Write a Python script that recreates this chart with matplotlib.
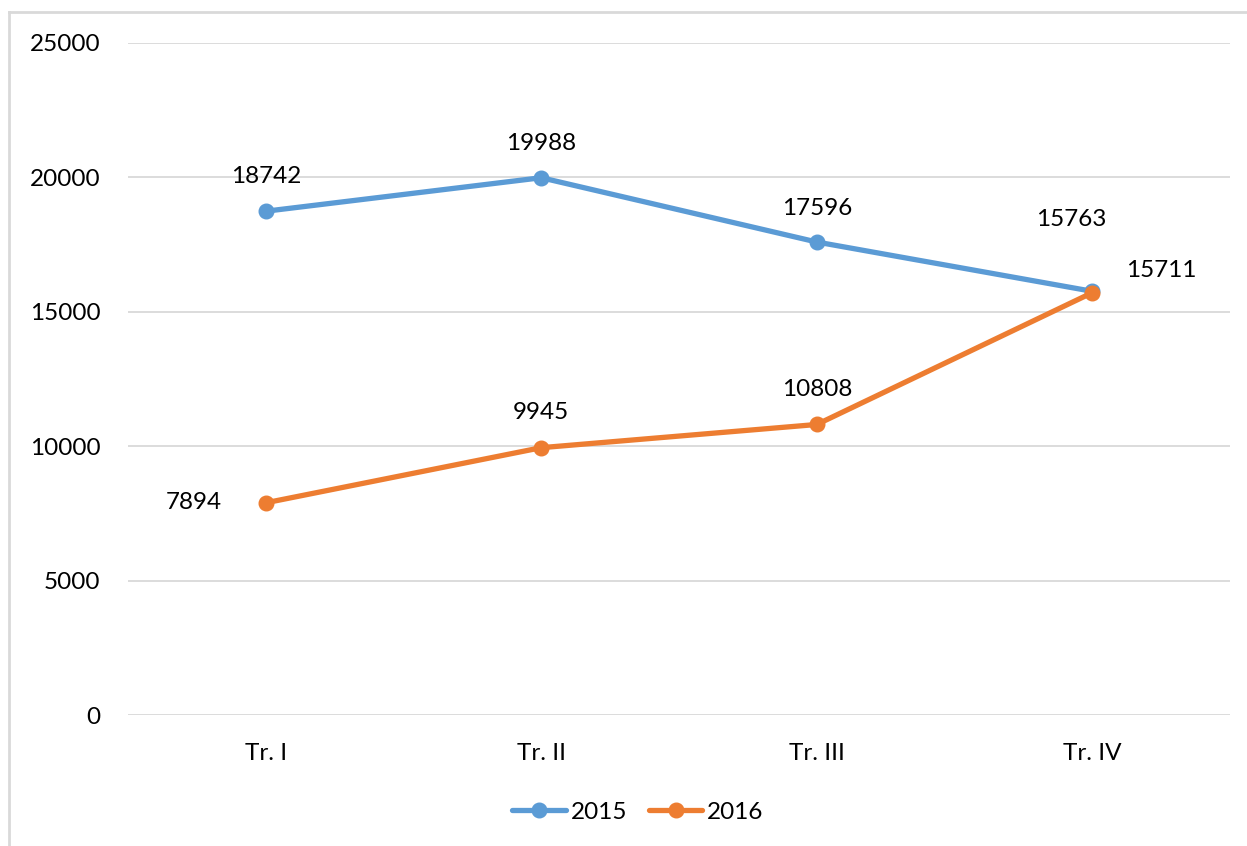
import matplotlib
matplotlib.use("Agg")
import matplotlib.pyplot as plt
from matplotlib.lines import Line2D

categories = ["Tr. I", "Tr. II", "Tr. III", "Tr. IV"]
series_names = ["2015", "2016"]
values_2015 = [18742, 19988, 17596, 15763]
values_2016 = [7894, 9945, 10808, 15711]
yticks = [0, 5000, 10000, 15000, 20000, 25000]

colors = ["#5B9BD5", "#ED7D31"]
# label offsets in points (dx, dy)
offsets_2015 = [(0, 25), (0, 25), (0, 24), (-15, 52)]
offsets_2016 = [(-52, 0), (0, 25), (0, 25), (50, 16)]

plt.rcParams['font.family'] = ['Lato', 'DejaVu Sans']
FS = 17.5

fig = plt.figure(figsize=(12.47, 8.46), dpi=100)
ax = fig.add_axes([128/1247, 1-715/846, (1230-128)/1247, (715-43)/846])

x = list(range(len(categories)))
for vals, col, offs, name in [(values_2015, colors[0], offsets_2015, series_names[0]),
                              (values_2016, colors[1], offsets_2016, series_names[1])]:
    ax.plot(x, vals, color=col, lw=3.8, marker='o', ms=10.5, solid_capstyle='round', label=name, zorder=3)
    for xi, v, (dx, dy) in zip(x, vals, offs):
        ax.annotate(str(v), (xi, v), xytext=(dx, dy), textcoords='offset points',
                    ha='center', va='center', fontsize=FS, color='#000000', zorder=4)

ax.set_xlim(-0.5, 3.5)
ax.set_ylim(0, 25000)
ax.set_yticks(yticks)
ax.set_yticklabels([str(t) for t in yticks])
ax.set_xticks(x)
ax.set_xticklabels(categories)
ax.tick_params(axis='both', length=0, labelsize=FS, colors='#000000')
ax.tick_params(axis='y', pad=20)
ax.tick_params(axis='x', pad=20)
ax.grid(axis='y', color='#D9D9D9', lw=1.3)
ax.set_axisbelow(True)
for s in ax.spines.values():
    s.set_visible(False)

handles = [Line2D([0], [0], color=c, lw=3.8, marker='o', ms=10.5, solid_capstyle='round') for c in colors]
fig.legend(handles, series_names, loc='center', bbox_to_anchor=(638/1247, 1-812/846),
           ncol=2, frameon=False, fontsize=FS, handlelength=2.2, handletextpad=0.2,
           columnspacing=0.9)

# chart area border (left and top visible)
fig.add_artist(Line2D([9/1247, 9/1247], [0, 1-12/846], color='#D9D9D9', lw=2, transform=fig.transFigure))
fig.add_artist(Line2D([9/1247, 1], [1-12/846, 1-12/846], color='#D9D9D9', lw=2, transform=fig.transFigure))

fig.savefig("out.png", dpi=100, facecolor='white')
